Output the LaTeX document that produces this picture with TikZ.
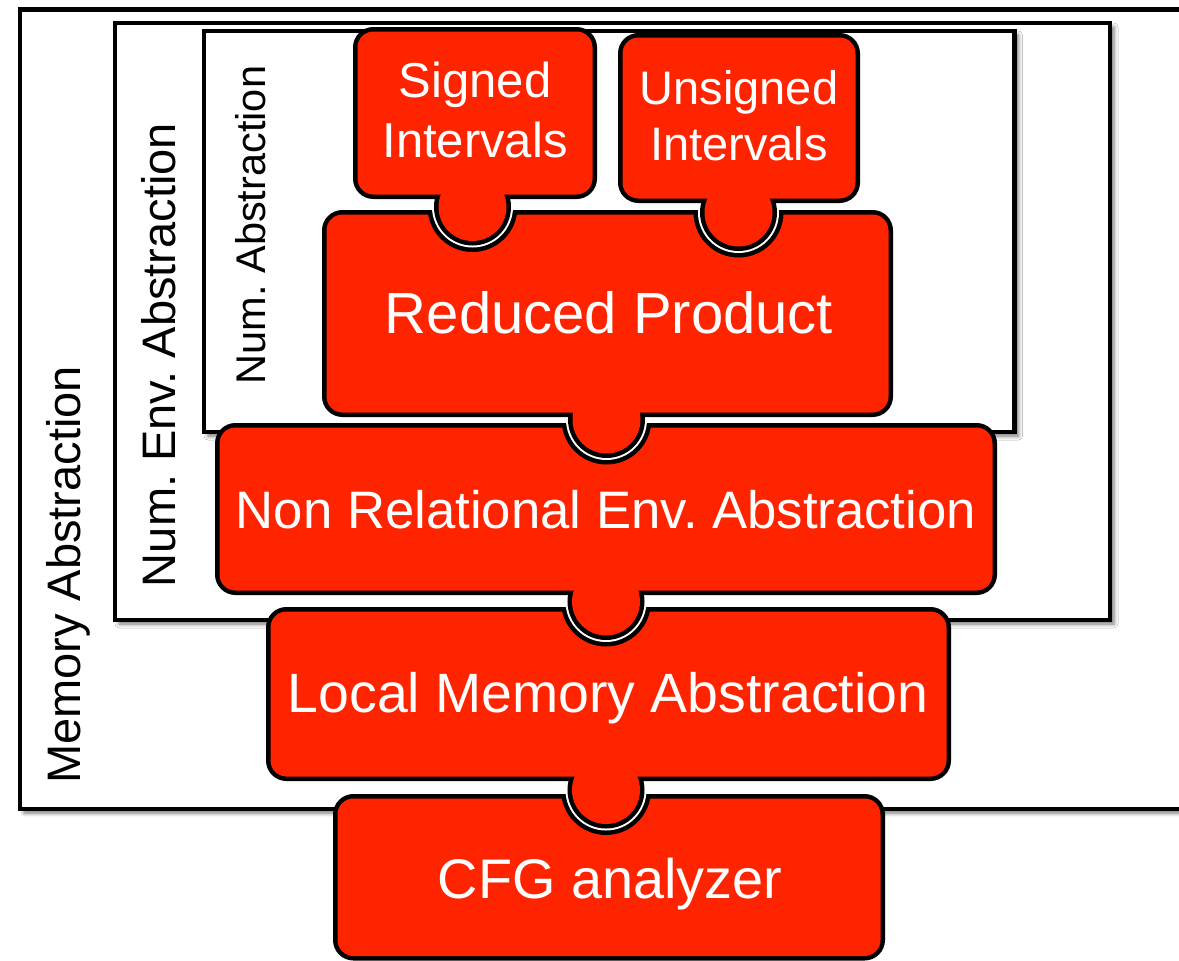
\documentclass[tikz,border=0pt]{standalone}
\usepackage{fontspec}
\setmainfont{Liberation Sans}
\usetikzlibrary{shadows.blur}
\definecolor{puzzlered}{RGB}{255,36,0}
\frenchspacing
\tikzset{
  absbox/.style={draw=black, line width=4.5pt, fill=white,
    blur shadow={shadow xshift=4pt, shadow yshift=-4pt,
      shadow blur radius=4pt, shadow opacity=55}},
  rim/.style={draw=black, line width=9pt, rounded corners=16pt},
  body/.style={fill=puzzlered, rounded corners=16pt},
  piecetext/.style={text=white, inner sep=0pt, align=center},
  sidelabel/.style={rotate=90, inner sep=0pt, anchor=base}
}
% socket cut into a lower piece: black rim and white gap, kept below its top edge
\newcommand\pzsocket[5]{%
  \begin{scope}
    \clip (#1,#2) rectangle (#3,#4);
    \fill[black] #5 circle[radius=45pt];
    \fill[white] #5 circle[radius=40.5pt];
  \end{scope}}
\begin{document}
\begin{tikzpicture}[x=1pt,y=-1pt]
\useasboundingbox (0,0) rectangle (1179,961);
\clip (0,0) rectangle (1179,961);

% nested abstraction frames
\path[absbox] (20,9.5) rectangle (1200,809);
\path[absbox] (115,23) rectangle (1110,620);
\path[absbox] (204,31) rectangle (1014.5,432);

\node[sidelabel, font=\fontsize{47}{47}\selectfont] (memlbl) at (80,575) {Memory Abstraction};
\node[sidelabel, font=\fontsize{47}{47}\selectfont] (envlbl) at (175,355) {Num. Env. Abstraction};
\node[sidelabel, font=\fontsize{41.5}{41.5}\selectfont] (numlbl) at (265,225) {Num. Abstraction};

% knob centres
\coordinate (kLocal)    at (606,790);
\coordinate (kNonRel)   at (606,601.5);
\coordinate (kReduced)  at (606.5,419.5);
\coordinate (kSigned)   at (472.5,207);
\coordinate (kUnsigned) at (738.5,212.5);

% CFG analyzer
\path[rim]  (337.5,798.5) rectangle (880.5,956);
\path[body] (337.5,798.5) rectangle (880.5,956);
\pzsocket{330}{794}{890}{900}{(kLocal)}

% Local Memory Abstraction
\path[rim]  (270.5,611.5) rectangle (946.5,776.5);
\path[rim]  (kLocal) circle[radius=34pt];
\path[body] (270.5,611.5) rectangle (946.5,776.5);
\path[fill=puzzlered] (kLocal) circle[radius=34pt];
\pzsocket{262}{607}{955}{700}{(kNonRel)}

% Non Relational Env. Abstraction
\path[rim]  (219.5,427.5) rectangle (992.5,590.5);
\path[rim]  (kNonRel) circle[radius=34pt];
\path[body] (219.5,427.5) rectangle (992.5,590.5);
\path[fill=puzzlered] (kNonRel) circle[radius=34pt];
\pzsocket{210}{423}{1000}{520}{(kReduced)}

% Reduced Product
\path[rim]  (326.5,214.5) rectangle (888.5,412.5);
\path[rim]  (kReduced) circle[radius=34pt];
\path[body] (326.5,214.5) rectangle (888.5,412.5);
\path[fill=puzzlered] (kReduced) circle[radius=34pt];
\pzsocket{320}{210}{900}{320}{(kSigned)}
\pzsocket{320}{210}{900}{320}{(kUnsigned)}

% Signed Intervals
\path[rim]  (357.5,31.5) rectangle (592.5,194.5);
\path[rim]  (kSigned) circle[radius=34pt];
\path[body] (357.5,31.5) rectangle (592.5,194.5);
\path[fill=puzzlered] (kSigned) circle[radius=34pt];

% Unsigned Intervals
\path[rim]  (622.5,37.5) rectangle (855.5,198.5);
\path[rim]  (kUnsigned) circle[radius=34pt];
\path[body] (622.5,37.5) rectangle (855.5,198.5);
\path[fill=puzzlered] (kUnsigned) circle[radius=34pt];

% piece labels
\node[piecetext, font=\fontsize{49}{60}\selectfont] (signed) at (475,110) {Signed\\Intervals};
\node[piecetext, font=\fontsize{47}{56}\selectfont] (unsigned) at (739,116) {Unsigned\\Intervals};
\node[piecetext, font=\fontsize{58}{58}\selectfont, anchor=base] (reduced) at (609,333) {Reduced Product};
\node[piecetext, font=\fontsize{52.7}{52.7}\selectfont, anchor=base] (nonrel) at (606,528) {Non Relational Env. Abstraction};
\node[piecetext, font=\fontsize{55.4}{55.4}\selectfont, anchor=base] (local) at (608,712) {Local Memory Abstraction};
\node[piecetext, font=\fontsize{55.8}{55.8}\selectfont, anchor=base] (cfg) at (610,898) {CFG analyzer};
\end{tikzpicture}
\end{document}
